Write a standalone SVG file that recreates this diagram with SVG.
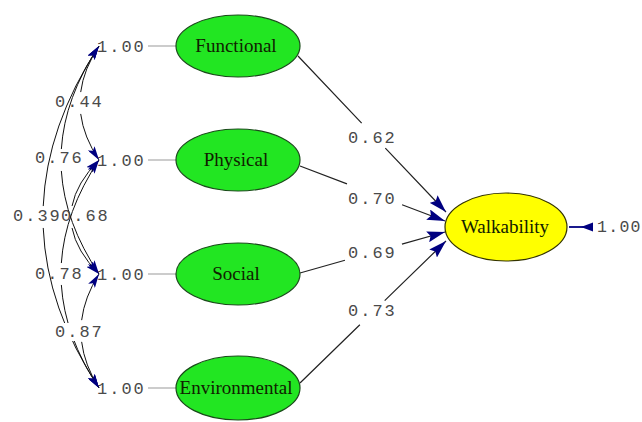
<svg xmlns="http://www.w3.org/2000/svg" width="642" height="422" viewBox="0 0 642 422">
<defs>
<marker id="ah" viewBox="0 0 14 8" refX="14" refY="4" markerWidth="14" markerHeight="8" markerUnits="userSpaceOnUse" orient="auto-start-reverse">
<path d="M0,0 L14,4 L0,8 L3,4 z" fill="#000080"/>
</marker>
<marker id="ah2" viewBox="0 0 18 11" refX="18" refY="5.5" markerWidth="18" markerHeight="11" markerUnits="userSpaceOnUse" orient="auto">
<path d="M0,0 L18,5.5 L0,11 L3,5.5 z" fill="#000080"/>
</marker>
<style>
.num{font-family:"Liberation Mono","Courier New",monospace;font-size:17px;letter-spacing:2px;fill:#4a4a4a}
.lbl{font-family:"Liberation Serif","Times New Roman",serif;font-size:19px;fill:#102000;text-anchor:middle}
.lat{fill:#22e622;stroke:#1a4a1a;stroke-width:1.2}
.dep{fill:#ffff00;stroke:#333300;stroke-width:1.2}
.cov{fill:none;stroke:#111;stroke-width:1;marker-start:url(#ah);marker-end:url(#ah)}
.path{fill:none;stroke:#222;stroke-width:1.2;marker-end:url(#ah2)}
.stub{stroke:#999;stroke-width:1}
</style>
</defs>
<rect width="642" height="422" fill="#ffffff"/>

<g id="variance-labels">
<text class="num" x="97" y="52">1.00</text>
<text class="num" x="97" y="166">1.00</text>
<text class="num" x="97" y="280">1.00</text>
<text class="num" x="97" y="394">1.00</text>
</g>

<g id="connectors">
<line class="stub" x1="148" y1="46" x2="176" y2="46"/>
<line class="stub" x1="148" y1="160" x2="176" y2="160"/>
<line class="stub" x1="148" y1="274" x2="176" y2="274"/>
<line class="stub" x1="148" y1="388" x2="176" y2="388"/>
<path class="cov" d="M99,46 Q61,103 99,160" pathLength="100" stroke-dasharray="41 18 41"/>
<path class="cov" d="M99,46 Q23,160 99,274" pathLength="100" stroke-dasharray="45.5 9 45.5"/>
<path class="cov" d="M99,46 Q-13,217 99,388" pathLength="100" stroke-dasharray="47 6 47"/>
<path class="cov" d="M99,160 Q43,217 99,274" pathLength="100" stroke-dasharray="41.5 17 41.5"/>
<path class="cov" d="M99,160 Q23,274 99,388" pathLength="100" stroke-dasharray="45.5 9 45.5"/>
<path class="cov" d="M99,274 Q63,331 99,388" pathLength="100" stroke-dasharray="41 18 41"/>
<path class="path" d="M298,56 L446,212" pathLength="100" stroke-dasharray="43 16 41"/>
<path class="path" d="M300,166 L445,221" pathLength="100" stroke-dasharray="32.4 38 29.6"/>
<path class="path" d="M300,273 L445,232" pathLength="100" stroke-dasharray="31 39.3 29.7"/>
<path class="path" d="M300,383 L446,241" pathLength="100" stroke-dasharray="41 17 42"/>
<line x1="569" y1="227" x2="592" y2="227" stroke="#000080" stroke-width="1.8"/>
<polygon points="581,227 593,222.5 593,231.5" fill="#000080"/>
</g>

<g id="coef-labels">
<text class="num" x="55" y="107">0.44</text>
<text class="num" x="35" y="163">0.76</text>
<text class="num" x="13" y="221">0.39</text>
<text class="num" x="61" y="221">0.68</text>
<text class="num" x="35" y="279">0.78</text>
<rect x="53" y="323" width="52" height="18" fill="#ffffff"/>
<text class="num" x="55" y="337">0.87</text>
<text class="num" x="348" y="143">0.62</text>
<text class="num" x="348" y="204">0.70</text>
<text class="num" x="348" y="258">0.69</text>
<text class="num" x="348" y="316">0.73</text>
<text class="num" x="597" y="232" style="font-size:16.5px;letter-spacing:1.3px">1.00</text>
</g>

<g id="node-functional">
<ellipse class="lat" cx="238" cy="46" rx="62" ry="31"/>
<text class="lbl" x="236" y="52">Functional</text>
</g>
<g id="node-physical">
<ellipse class="lat" cx="238" cy="160" rx="62" ry="31"/>
<text class="lbl" x="236" y="166">Physical</text>
</g>
<g id="node-social">
<ellipse class="lat" cx="238" cy="274" rx="62" ry="31"/>
<text class="lbl" x="236" y="280">Social</text>
</g>
<g id="node-environmental">
<ellipse class="lat" cx="238" cy="388" rx="62" ry="32"/>
<text class="lbl" x="236" y="394">Environmental</text>
</g>
<g id="node-walkability">
<ellipse class="dep" cx="506" cy="227" rx="61" ry="34"/>
<text class="lbl" x="505" y="233">Walkability</text>
</g>
</svg>
